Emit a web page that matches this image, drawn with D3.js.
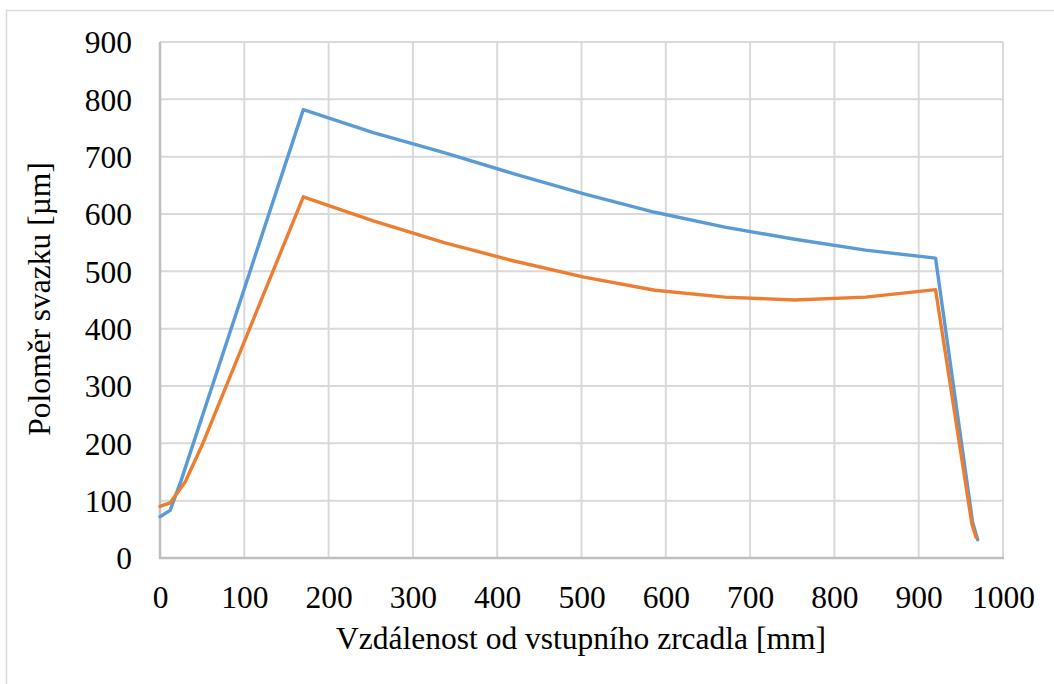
<!DOCTYPE html>
<html>
<head>
<meta charset="utf-8">
<script src="https://cdn.jsdelivr.net/npm/d3@7"></script>
<style>
  html, body { margin: 0; padding: 0; background: #fff; }
  svg { display: block; }
  text { font-family: "Liberation Serif", "Times New Roman", serif; fill: #000; }
</style>
</head>
<body>
<svg id="chart" width="1054" height="684"></svg>
<script>
// Beam radius along the resonator (distance from input mirror, mm)
const blueX = [0, 12, 25, 170, 253, 337, 420, 503, 587, 670, 753, 837, 920, 964, 970];
const blueY = [72, 83, 135, 782, 742, 707, 670, 635, 603, 577, 556, 537, 523, 62, 32];
const orangeX = [0, 12, 30, 50, 170, 253, 337, 420, 503, 587, 670, 753, 837, 920, 963, 968];
const orangeY = [90, 96, 133, 197, 630, 588, 550, 518, 490, 467, 455, 450, 455, 468, 60, 36];
const xTicks = [0, 100, 200, 300, 400, 500, 600, 700, 800, 900, 1000];
const yTicks = [0, 100, 200, 300, 400, 500, 600, 700, 800, 900];
const xTitle = "Vzdálenost od vstupního zrcadla [mm]";
const yTitle = "Poloměr svazku [µm]";

const svg = d3.select("#chart");
const plot = { left: 160, right: 1003, top: 42, bottom: 558 };
const fontSize = 31.5;

const x = d3.scaleLinear().domain([0, 1000]).range([plot.left, plot.right]);
const y = d3.scaleLinear().domain([0, 900]).range([plot.bottom, plot.top]);

// outer chart frame
svg.append("rect")
  .attr("x", 6.5).attr("y", 10.5).attr("width", 1060).attr("height", 700)
  .attr("fill", "none").attr("stroke", "#d9d9d9").attr("stroke-width", 1.5);

// gridlines
const grid = svg.append("g");
grid.selectAll("line.v").data(xTicks).join("line")
  .attr("x1", d => x(d)).attr("x2", d => x(d))
  .attr("y1", plot.top).attr("y2", plot.bottom)
  .attr("stroke", "#d9d9d9").attr("stroke-width", 2);
grid.selectAll("line.h").data(yTicks).join("line")
  .attr("y1", d => y(d)).attr("y2", d => y(d))
  .attr("x1", plot.left).attr("x2", plot.right)
  .attr("stroke", "#d9d9d9").attr("stroke-width", 2);

// axis lines
svg.append("line").attr("x1", plot.left).attr("x2", plot.left).attr("y1", plot.top).attr("y2", plot.bottom + 1)
  .attr("stroke", "#bfbfbf").attr("stroke-width", 2.5);
svg.append("line").attr("x1", plot.left - 1).attr("x2", plot.right + 1).attr("y1", plot.bottom).attr("y2", plot.bottom)
  .attr("stroke", "#bfbfbf").attr("stroke-width", 2.5);

// tick labels via d3 axes
const xAxis = svg.append("g").attr("transform", `translate(0,${plot.bottom})`)
  .call(d3.axisBottom(x).tickValues(xTicks).tickSize(0).tickPadding(28).tickFormat(d3.format("d")));
const yAxis = svg.append("g").attr("transform", `translate(${plot.left},0)`)
  .call(d3.axisLeft(y).tickValues(yTicks).tickSize(0).tickPadding(28).tickFormat(d3.format("d")));
[xAxis, yAxis].forEach(a => {
  a.select(".domain").remove();
  a.attr("font-size", fontSize).attr("font-family", "Liberation Serif");
  a.selectAll("text").attr("font-size", fontSize).attr("fill", "#000");
});
yAxis.selectAll("text").attr("dy", "0.34em");

// series lines
const line = d3.line().x(d => x(d[0])).y(d => y(d[1]));
const blue = blueX.map((v, i) => [v, blueY[i]]);
const orange = orangeX.map((v, i) => [v, orangeY[i]]);

svg.append("path").datum(blue).attr("d", line)
  .attr("fill", "none").attr("stroke", "#5B9BD5").attr("stroke-width", 3.4)
  .attr("stroke-linejoin", "round").attr("stroke-linecap", "round");
svg.append("path").datum(orange).attr("d", line)
  .attr("fill", "none").attr("stroke", "#ED7D31").attr("stroke-width", 3.4)
  .attr("stroke-linejoin", "round").attr("stroke-linecap", "round");

// axis titles
svg.append("text").attr("x", 581).attr("y", 649).attr("text-anchor", "middle")
  .attr("font-size", fontSize).text(xTitle);
svg.append("text").attr("transform", "translate(50,299) rotate(-90)")
  .attr("text-anchor", "middle").attr("font-size", fontSize).text(yTitle);
</script>
</body>
</html>
